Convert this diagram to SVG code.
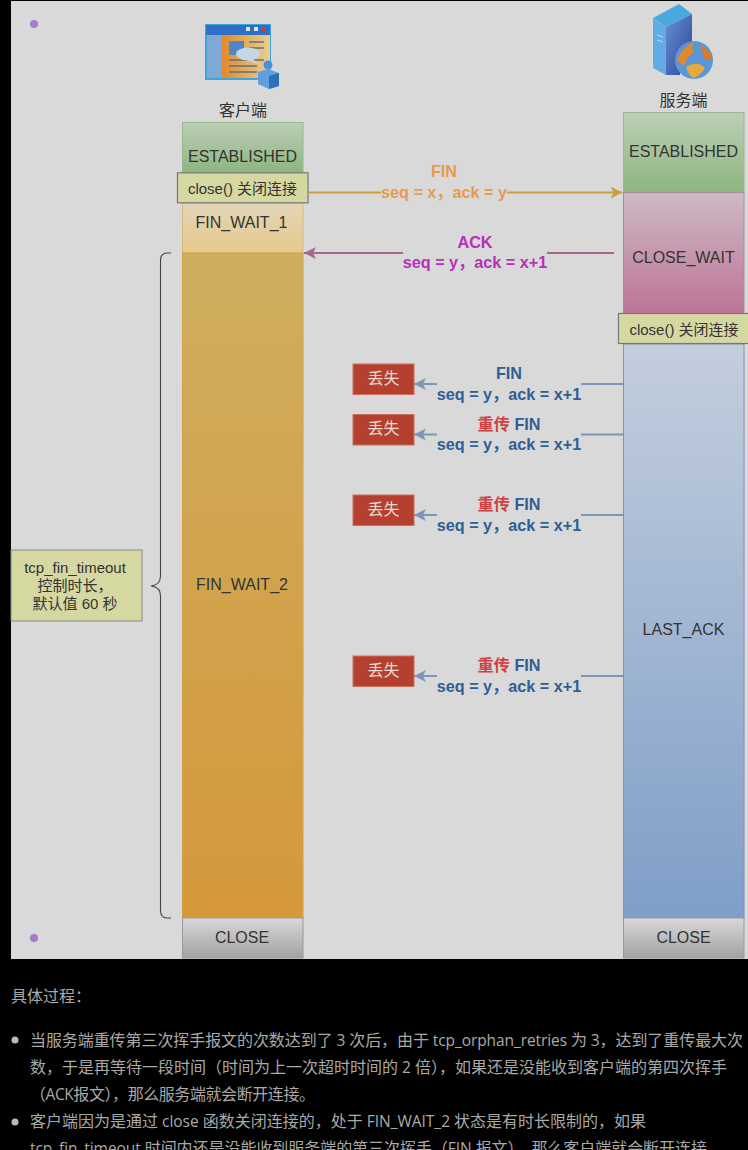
<svg xmlns="http://www.w3.org/2000/svg" width="748" height="1150" viewBox="0 0 748 1150">
<style>
.s{font:16px "Liberation Sans","Noto Sans CJK SC",sans-serif;fill:#333;text-anchor:middle}
.n{font:15px "Liberation Sans","Noto Sans CJK SC",sans-serif;fill:#333;text-anchor:middle}
.l{font:bold 16.2px "Liberation Sans","Noto Sans CJK SC",sans-serif;text-anchor:middle}
.b{fill:#2f5f96}.r{fill:#d23f3f}
.lost{fill:#b5402f;stroke:#c9705f}
.lt{font:16px "Liberation Sans","Noto Sans CJK SC",sans-serif;fill:#eadbd4;text-anchor:middle}
.box{fill:#d6d8a2;stroke:#777;stroke-width:1.2}
.p{font:16px "Open Sans","Noto Sans CJK SC",sans-serif;fill:#a9a9a9}
.e{font-size:15.5px}
.c{fill:none;stroke-width:2}
.bl{stroke:#7d95b8;marker-end:url(#ab)}
.soft{filter:url(#soft)}
</style>
<defs>
<filter id="soft" x="-10%" y="-10%" width="120%" height="120%"><feGaussianBlur stdDeviation="0.5"/></filter>
<linearGradient id="g1" x1="0" y1="0" x2="0" y2="1"><stop offset="0" stop-color="#bccfb7"/><stop offset="1" stop-color="#8eb57f"/></linearGradient>
<linearGradient id="g2" x1="0" y1="0" x2="0" y2="1"><stop offset="0" stop-color="#e2d6b9"/><stop offset="1" stop-color="#e6c98a"/></linearGradient>
<linearGradient id="g3" x1="0" y1="0" x2="0" y2="1"><stop offset="0" stop-color="#cfae60"/><stop offset="1" stop-color="#d5983a"/></linearGradient>
<linearGradient id="g4" x1="0" y1="0" x2="0" y2="1"><stop offset="0" stop-color="#d8d8d8"/><stop offset="1" stop-color="#a2a2a2"/></linearGradient>
<linearGradient id="g5" x1="0" y1="0" x2="0" y2="1"><stop offset="0" stop-color="#cdbac4"/><stop offset="1" stop-color="#bd7496"/></linearGradient>
<linearGradient id="g6" x1="0" y1="0" x2="0" y2="1"><stop offset="0" stop-color="#c3cedd"/><stop offset="1" stop-color="#7f9ec8"/></linearGradient>
<linearGradient id="g7" x1="0" y1="0" x2="1" y2="0"><stop offset="0" stop-color="#e08a2a"/><stop offset="1" stop-color="#e8cf90"/></linearGradient>
<linearGradient id="g8" x1="0" y1="0" x2="1" y2="0"><stop offset="0" stop-color="#5aaee6"/><stop offset="1" stop-color="#6aa8e4"/></linearGradient>
<linearGradient id="g9" x1="0" y1="0" x2="1" y2="1"><stop offset="0" stop-color="#6c90d2"/><stop offset="1" stop-color="#28469a"/></linearGradient>
<marker id="ay" markerWidth="14" markerHeight="14" refX="12" refY="7" orient="auto" markerUnits="userSpaceOnUse"><path d="M0 1L12 7L0 13L3 7Z" fill="#c9a13c"/></marker>
<marker id="ap" markerWidth="14" markerHeight="14" refX="12" refY="7" orient="auto" markerUnits="userSpaceOnUse"><path d="M0 1L12 7L0 13L3 7Z" fill="#a5688c"/></marker>
<marker id="ab" markerWidth="14" markerHeight="14" refX="12" refY="7" orient="auto" markerUnits="userSpaceOnUse"><path d="M0 1L12 7L0 13L3 7Z" fill="#7d95b8"/></marker>
</defs>
<rect width="748" height="1150" fill="#000"/>
<rect x="11" y="1" width="737" height="958" fill="#d9d9d9"/>
<circle cx="34" cy="24" r="4" fill="#a87bce"/>
<circle cx="34" cy="938" r="4" fill="#a87bce"/>

<g id="client-icon" class="soft">
<rect x="205" y="24" width="66" height="56" fill="#3ea6d8"/>
<rect x="206" y="25" width="64" height="10" fill="#2f6fc4"/>
<rect x="246" y="27" width="4" height="4" fill="#dfe8f2"/><rect x="254" y="27" width="4" height="4" fill="#dfe8f2"/><rect x="262" y="27" width="4" height="4" fill="#c8403a"/>
<rect x="207" y="35" width="15" height="43" fill="#7ea8d8"/>
<rect x="222" y="35" width="48" height="43" fill="url(#g7)"/>
<rect x="229" y="41" width="15" height="14" fill="#4f86c6"/>
<path d="M249 42h15M249 48h15M229 60h35M229 66h28M229 72h28" stroke="#62727a" stroke-width="1.6"/>
<ellipse cx="248" cy="54" rx="12" ry="6.5" fill="#c4d8e4"/><path d="M250 58L262 65L246 60Z" fill="#c4d8e4"/>
<circle cx="268" cy="65" r="4.5" fill="#4a90d8"/>
<path d="M258 72L268 69L279 73V86L269 89L258 84Z" fill="#5f9fde"/><path d="M269 76L279 73V86L269 89Z" fill="#2f70b8"/>
</g>
<text id="client-label" class="s" x="243" y="115.500">客户端</text>

<g id="server-icon" class="soft">
<path d="M653 18L679 4L692 14L666 27Z" fill="#4aa8de"/>
<path d="M653 18L666 27V75L653 68Z" fill="url(#g8)"/>
<path d="M666 27L692 14V58L680 65V75H666Z" fill="url(#g9)"/>
<path d="M657 35l6 2M657 40l6 2" stroke="#b8dcf0" stroke-width="1"/>
<circle cx="694" cy="60" r="19" fill="#5a96d8"/>
<path d="M677 60Q682 47 694 42Q690 50 695 52Q687 55 684 66Z" fill="#e08a2a"/>
<path d="M686 67Q698 60 705 68Q700 76 693 78Q688 74 686 67Z" fill="#e8a83a"/>
<path d="M700 45Q710 48 713 60L705 60Z" fill="#d87a2a"/>
</g>
<text id="server-label" class="s" x="683.500" y="105.500">服务端</text>

<g id="client-established"><rect x="182.500" y="122.500" width="120.500" height="50" fill="url(#g1)" stroke="#98b98c"/><text class="s" x="242.500" y="162">ESTABLISHED</text></g>
<g id="client-fin-wait-1"><rect x="182.500" y="203" width="120.500" height="50" fill="url(#g2)" stroke="#d8bb78"/><text class="s" x="241.500" y="227.500">FIN_WAIT_1</text></g>
<g id="client-fin-wait-2"><rect x="182.500" y="253" width="120.500" height="665" fill="url(#g3)" stroke="#cfa448"/><text class="s" x="242" y="590">FIN_WAIT_2</text></g>
<g id="client-close"><rect x="182.500" y="918" width="120.500" height="40" fill="url(#g4)" stroke="#999"/><text class="s" x="242" y="942.500">CLOSE</text></g>
<g id="client-close-call"><rect class="box" x="177.500" y="172.800" width="130.500" height="30"/><text class="n" x="242.500" y="194">close() 关闭连接</text></g>

<g id="server-established"><rect x="623.500" y="112.500" width="120.500" height="80" fill="url(#g1)" stroke="#98b98c"/><text class="s" x="683.500" y="157">ESTABLISHED</text></g>
<g id="server-close-wait"><rect x="623.500" y="192.500" width="120.500" height="121" fill="url(#g5)" stroke="#a98a9c"/><text class="s" x="683.500" y="262.500">CLOSE_WAIT</text></g>
<g id="server-last-ack"><rect x="623.500" y="344" width="120.500" height="574" fill="url(#g6)" stroke="#7f94b4"/><text class="s" x="683.500" y="635">LAST_ACK</text></g>
<g id="server-close"><rect x="623.500" y="918" width="120.500" height="40" fill="url(#g4)" stroke="#999"/><text class="s" x="683.500" y="942.500">CLOSE</text></g>
<g id="server-close-call"><rect class="box" x="618.500" y="313.500" width="131" height="30"/><text class="n" x="684" y="334.500">close() 关闭连接</text></g>

<g id="connectors">
<path class="c" d="M308.500 192.500H381M507 192.500H622.500" stroke="#c9a13c" marker-end="url(#ay)"/>
<path class="c" d="M614 253H547M403 253H304" stroke="#a5688c" marker-end="url(#ap)"/>
<path class="c bl" d="M623 384H581M437 384H414"/>
<path class="c bl" d="M623 434.500H581M437 434.500H414"/>
<path class="c bl" d="M623 515H581M437 515H414"/>
<path class="c bl" d="M623 676H581M437 676H414"/>
<path id="brace" d="M171 253H167Q160.500 253 160.500 261V576Q160.500 585 151 586Q160.500 587 160.500 596V910Q160.500 918 167 918H171" fill="none" stroke="#444" stroke-width="1.1"/>
</g>

<g id="label-fin">
<text class="l" x="444" y="177" fill="#e8994e">FIN</text>
<text class="l" x="444" y="198" fill="#e8994e">seq = x，ack = y</text>
</g>
<g id="label-ack">
<text class="l" x="475" y="247.500" fill="#b82fb8">ACK</text>
<text class="l" x="475" y="268" fill="#b82fb8">seq = y，ack = x+1</text>
</g>
<g id="lost-1"><rect class="lost" x="353" y="364" width="61" height="30.500"/><text class="lt" x="383.500" y="384">丢失</text></g>
<g id="lost-2"><rect class="lost" x="353" y="414.500" width="61" height="30.500"/><text class="lt" x="383.500" y="434">丢失</text></g>
<g id="lost-3"><rect class="lost" x="353" y="495" width="61" height="30.500"/><text class="lt" x="383.500" y="515">丢失</text></g>
<g id="lost-4"><rect class="lost" x="353" y="656" width="61" height="30.500"/><text class="lt" x="383.500" y="676">丢失</text></g>
<g id="label-fin-1"><text class="l b" x="509" y="379">FIN</text><text class="l b" x="509" y="399.500">seq = y，ack = x+1</text></g>
<g id="label-fin-2"><text class="l b" x="509" y="429.500"><tspan class="r">重传</tspan> FIN</text><text class="l b" x="509" y="450">seq = y，ack = x+1</text></g>
<g id="label-fin-3"><text class="l b" x="509" y="510"><tspan class="r">重传</tspan> FIN</text><text class="l b" x="509" y="530.500">seq = y，ack = x+1</text></g>
<g id="label-fin-4"><text class="l b" x="509" y="671"><tspan class="r">重传</tspan> FIN</text><text class="l b" x="509" y="691.500">seq = y，ack = x+1</text></g>

<g id="timeout-note">
<rect x="11" y="550" width="131" height="71" fill="#d6d8a2" stroke="#888"/>
<text class="n" x="75" y="573">tcp_fin_timeout</text>
<text class="n" x="75" y="591">控制时长，</text>
<text class="n" x="75" y="609">默认值 60 秒</text>
</g>

<g id="body-text">
<text class="p" x="11" y="1001.500">具体过程：</text>
<circle cx="15" cy="1040" r="3.500" fill="#b4bcc4"/>
<circle cx="15" cy="1122" r="3.500" fill="#b4bcc4"/>
<text class="p" x="30" y="1045.500" textLength="713">当服务端重传第三次挥手报文的次数达到了<tspan class="e"> 3 </tspan>次后，由于<tspan class="e"> tcp_orphan_retries </tspan>为<tspan class="e"> 3</tspan>，达到了重传最大次</text>
<text class="p" x="30" y="1072.500" textLength="697">数，于是再等待一段时间（时间为上一次超时时间的<tspan class="e"> 2 </tspan>倍），如果还是没能收到客户端的第四次挥手</text>
<text class="p" x="30" y="1099.500" textLength="285">（<tspan class="e">ACK</tspan>报文），那么服务端就会断开连接。</text>
<text class="p" x="30" y="1127" textLength="616">客户端因为是通过<tspan class="e"> close </tspan>函数关闭连接的，处于<tspan class="e"> FIN_WAIT_2 </tspan>状态是有时长限制的，如果</text>
<text class="p" x="30" y="1154" textLength="677"><tspan class="e">tcp_fin_timeout </tspan>时间内还是没能收到服务端的第三次挥手（<tspan class="e">FIN </tspan>报文），那么客户端就会断开连接</text>
</g>
</svg>
